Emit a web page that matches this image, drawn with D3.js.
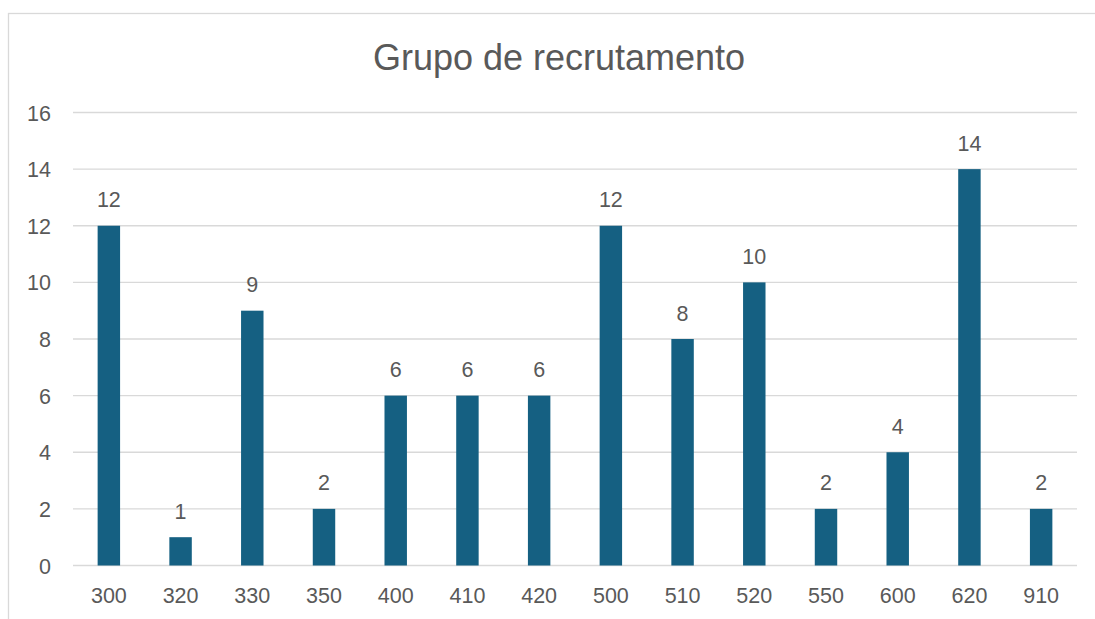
<!DOCTYPE html>
<html>
<head>
<meta charset="utf-8">
<script src="https://cdn.jsdelivr.net/npm/d3@7"></script>
<style>
  html, body { margin: 0; padding: 0; background: #ffffff; }
  svg { display: block; }
  text { font-family: "Liberation Sans", Arial, sans-serif; fill: #595959; }
</style>
</head>
<body>
<svg id="chart" width="1095" height="619"></svg>
<script>
// Recruitment groups and number of people in each
const groups = ["300", "320", "330", "350", "400", "410", "420", "500", "510", "520", "550", "600", "620", "910"];
const counts = [12, 1, 9, 2, 6, 6, 6, 12, 8, 10, 2, 4, 14, 2];
const yTicks = [0, 2, 4, 6, 8, 10, 12, 14, 16];
const title = "Grupo de recrutamento";

const svg = d3.select("#chart");

// chart frame (continues past the right and bottom edges)
svg.append("rect")
  .attr("x", 8.5).attr("y", 13.5)
  .attr("width", 1200).attr("height", 700)
  .attr("fill", "#ffffff")
  .attr("stroke", "#d9d9d9").attr("stroke-width", 1.3);

const plot = { left: 73, right: 1077, top: 112.5, bottom: 565.5 };
const labelSize = 21.5;

const x = d3.scaleBand()
  .domain(groups)
  .range([plot.left, plot.right])
  .padding(0);

const y = d3.scaleLinear()
  .domain([0, 16])
  .range([plot.bottom, plot.top]);

const barW = x.bandwidth() * 0.313;

// horizontal gridlines
svg.append("g")
  .selectAll("line")
  .data(yTicks)
  .join("line")
  .attr("x1", plot.left).attr("x2", plot.right)
  .attr("y1", d => y(d)).attr("y2", d => y(d))
  .attr("stroke", "#d9d9d9").attr("stroke-width", 1.4);

// y axis labels
const yAxis = d3.axisLeft(y).tickValues(yTicks).tickSize(0).tickPadding(0);
const gy = svg.append("g").attr("transform", "translate(51,0)").call(yAxis);
gy.select(".domain").remove();
gy.selectAll("text")
  .attr("font-size", labelSize)
  .attr("font-family", "'Liberation Sans', Arial, sans-serif")
  .attr("fill", "#595959")
  .attr("dy", "0.35em");

// x axis labels
const xAxis = d3.axisBottom(x).tickSize(0).tickPadding(0);
const gx = svg.append("g").attr("transform", `translate(0,${plot.bottom})`).call(xAxis);
gx.select(".domain").remove();
gx.selectAll("text")
  .attr("font-size", labelSize)
  .attr("font-family", "'Liberation Sans', Arial, sans-serif")
  .attr("fill", "#595959")
  .attr("dy", null)
  .attr("y", 37);

// bars
svg.append("g")
  .selectAll("rect")
  .data(groups.map((g, i) => ({ g, v: counts[i] })))
  .join("rect")
  .attr("x", d => x(d.g) + (x.bandwidth() - barW) / 2)
  .attr("y", d => y(d.v))
  .attr("width", barW)
  .attr("height", d => y(0) - y(d.v))
  .attr("fill", "#156082");

// value labels
svg.append("g")
  .selectAll("text")
  .data(groups.map((g, i) => ({ g, v: counts[i] })))
  .join("text")
  .attr("x", d => x(d.g) + x.bandwidth() / 2)
  .attr("y", d => y(d.v) - 18.5)
  .attr("text-anchor", "middle")
  .attr("font-size", labelSize)
  .text(d => d.v);

// title
svg.append("text")
  .attr("x", 559)
  .attr("y", 70)
  .attr("text-anchor", "middle")
  .attr("font-size", 36)
  .text(title);
</script>
</body>
</html>
